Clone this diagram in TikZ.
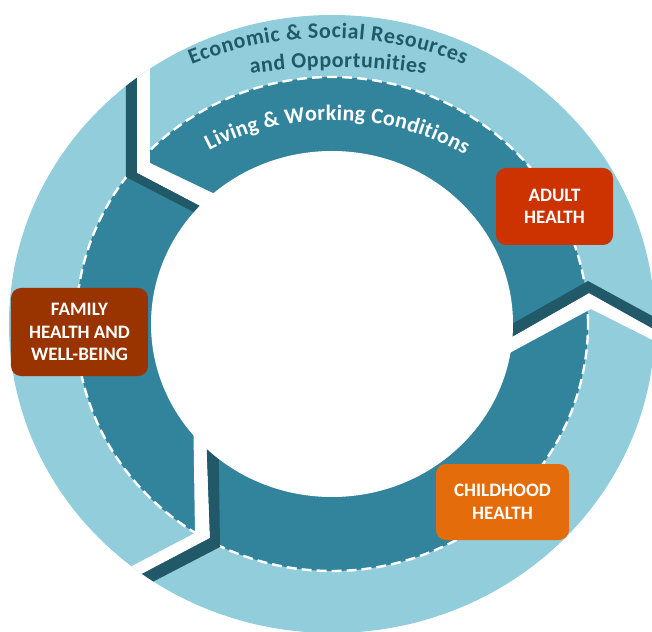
\documentclass[tikz,border=0pt]{standalone}
\usepackage{fontspec}
\newfontfamily\carlito{Carlito}
\usetikzlibrary{decorations.text}
\definecolor{ringlight}{HTML}{92CDDC}
\definecolor{ringteal}{HTML}{31849B}
\definecolor{ringshade}{HTML}{215968}
\definecolor{ringink}{HTML}{1F5A69}
\definecolor{adultred}{HTML}{CC3300}
\definecolor{familybrown}{HTML}{993300}
\definecolor{childorange}{HTML}{E46C0A}
\newcommand\ringfont{\carlito\bfseries\fontsize{22}{26}\selectfont}

\begin{document}
\begin{tikzpicture}[
  x=1pt, y=1pt,
  stagebox/.style={rounded corners=10pt, align=center, text=white, inner sep=0pt,
    font=\carlito\bfseries\fontsize{19}{22.5}\selectfont},
  notchgap/.style={fill=white},
  sidestrip/.style={fill=ringshade},
  arctext/.style={decorate, decoration={text along path, text align={fit to path}, text={#1}}}
]
\useasboundingbox (-332,-307) rectangle (320,324);

\fill[ringlight] (0,0) ellipse [x radius=323, y radius=309];
\fill[ringteal] (0,0) ellipse [x radius=256, y radius=247];
\draw[white, line width=2.4pt, dash pattern=on 10pt off 5pt] (0,0) ellipse [x radius=256, y radius=247];

\begin{scope}
\clip (0,0) ellipse [x radius=323, y radius=309];
% top left
\fill[notchgap] (-182,284) -- (-182,161) -- (-92,118) -- (-92,97) -- (-195,151) -- (-195,284) -- cycle;
\fill[sidestrip] (-195,284) -- (-195,151) -- (-92,97) -- (-92,88) -- (-206,147) -- (-206,284) -- cycle;
% right
\fill[notchgap] (368,-40) -- (259,15) -- (148,-45) -- (148,-31) -- (257,31) -- (368,-31) -- cycle;
\fill[sidestrip] (148,-31) -- (257,31) -- (368,-31) -- (368,-18) -- (256,43) -- (148,-18) -- cycle;
% bottom left
\fill[notchgap] (-139,-76) -- (-137,-209) -- (-242,-264) -- (-232,-272) -- (-122,-214) -- (-127,-76) -- cycle;
\fill[sidestrip] (-127,-76) -- (-122,-214) -- (-232,-272) -- (-222,-280) -- (-112,-223) -- (-114,-76) -- cycle;
\end{scope}

\fill[white] (0,0) ellipse [x radius=181, y radius=173];

\path[arctext={|\ringfont\color{ringink}|Economic {\&} Social Resources}]
  (-4,-78) ++(112:364) arc [start angle=112, end angle=68, radius=364];
\path[arctext={|\ringfont\color{ringink}|and Opportunities}]
  (6,-302) ++(99:559) arc [start angle=99, end angle=81, radius=559];
\path[arctext={|\ringfont\color{white}|Living {\&} Working Conditions}]
  (1,-64) ++(117.5:268) arc [start angle=117.5, end angle=60.5, radius=268];

\node[stagebox, fill=adultred, minimum width=117pt, minimum height=77pt] (adult) at (222.5,117.5) {ADULT\\HEALTH};
\node[stagebox, fill=familybrown, minimum width=137pt, minimum height=88pt] (family) at (-252.5,-8) {FAMILY\\HEALTH AND\\WELL-BEING};
\node[stagebox, fill=childorange, minimum width=133pt, minimum height=76pt] (child) at (170.5,-178) {CHILDHOOD\\HEALTH};
\end{tikzpicture}
\end{document}
